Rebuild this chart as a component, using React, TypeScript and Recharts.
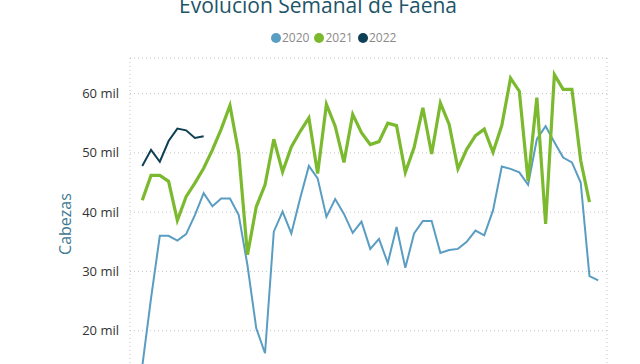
import {
  CartesianGrid,
  Legend,
  Line,
  LineChart,
  XAxis,
  YAxis,
} from "recharts";

const C2020 = "#5A9DC2";
const C2021 = "#7BB92E";
const C2022 = "#0F3F55";
const FONT = "'Open Sans', sans-serif";

const weeks = [
  1, 2, 3, 4, 5, 6, 7, 8, 9, 10, 11, 12, 13, 14, 15, 16, 17, 18, 19, 20, 21,
  22, 23, 24, 25, 26, 27, 28, 29, 30, 31, 32, 33, 34, 35, 36, 37, 38, 39, 40,
  41, 42, 43, 44, 45, 46, 47, 48, 49, 50, 51, 52, 53,
];

const faena2020 = [
  14000, 25500, 36000, 36000, 35200, 36300, 39500, 43200, 41000, 42300, 42300,
  39500, 31000, 20400, 16200, 36700, 40100, 36400, 42300, 47800, 45700, 39200,
  42200, 39700, 36500, 38400, 33800, 35500, 31400, 37500, 30600, 36400, 38500,
  38500, 33100, 33600, 33800, 35000, 36900, 36100, 40300, 47700, 47300, 46700,
  44600, 52300, 54500, 51800, 49200, 48400, 45000, 29200, 28500,
];

const faena2021 = [
  42000, 46200, 46200, 45200, 38600, 42600, 44900, 47400, 50500, 54000, 58000,
  50000, 32800, 40900, 44600, 52300, 46800, 51000, 53600, 55900, 46500, 58200,
  54500, 48400, 56500, 53400, 51400, 51900, 55000, 54600, 46700, 50900, 57600,
  49800, 58400, 54800, 47300, 50600, 52900, 54000, 50100, 54600, 62600, 60400,
  45300, 59300, 38000, 63200, 60700, 60700, 48700, 41700,
];

const faena2022 = [47800, 50500, 48500, 52000, 54100, 53800, 52500, 52800];

// la parte baja del eje (10 mil y las semanas) queda fuera del recorte
const yTicks = [20000, 30000, 40000, 50000, 60000];
const xTicks = [10, 20, 30, 40, 50];

const series = [
  { key: "2020", color: C2020 },
  { key: "2021", color: C2021 },
  { key: "2022", color: C2022 },
];

const data = weeks.map((week, i) => ({
  week,
  "2020": faena2020[i],
  "2021": faena2021[i],
  "2022": faena2022[i],
}));

function LegendContent() {
  return (
    <div
      style={{
        display: "flex",
        paddingLeft: 271,
        fontFamily: FONT,
        fontSize: 12,
        color: "#8a8a8a",
        lineHeight: "16px",
      }}
    >
      {series.map((s) => (
        <div
          key={s.key}
          style={{ display: "flex", alignItems: "center", marginRight: 5 }}
        >
          <svg width={10} height={10} style={{ marginRight: 1 }}>
            <circle cx={5} cy={5} r={5} fill={s.color} />
          </svg>
          <span>{s.key}</span>
        </div>
      ))}
    </div>
  );
}

export default function App() {
  return (
    <div
      style={{
        position: "absolute",
        top: 0,
        left: 0,
        width: 640,
        height: 364,
        overflow: "hidden",
        background: "#fff",
      }}
    >
      <div
        style={{
          position: "absolute",
          top: -5,
          left: 0,
          width: 636,
          textAlign: "center",
          fontFamily: FONT,
          fontSize: 21,
          lineHeight: "21px",
          color: "#1E5468",
          zIndex: 2,
        }}
      >
        Evolución Semanal de Faena
      </div>
      <LineChart
        width={640}
        height={430}
        data={data}
        margin={{ top: 58, right: 33, left: 0, bottom: 10 }}
      >
        <CartesianGrid stroke="#c4c4c4" strokeDasharray="1 3" />
        <XAxis
          dataKey="week"
          type="number"
          domain={[-0.4, 54]}
          ticks={xTicks}
          height={30}
          axisLine={false}
          tickLine={false}
          tick={false}
        />
        <YAxis
          width={130}
          domain={[10000, 66000]}
          ticks={yTicks}
          axisLine={false}
          tickLine={false}
          tickMargin={5}
          tickFormatter={(v: number) => `${v / 1000} mil`}
          tick={{ fontSize: 13, fill: "#333", fontFamily: FONT }}
          label={{
            value: "Cabezas",
            angle: -90,
            position: "insideLeft",
            dx: 60,
            dy: 0,
            style: {
              fontSize: 16,
              fill: "#3E7A90",
              fontFamily: FONT,
              textAnchor: "middle",
            },
          }}
        />
        <Legend
          verticalAlign="middle"
          align="center"
          wrapperStyle={{ top: 30, left: 0, width: 640 }}
          content={() => <LegendContent />}
        />
        <Line
          dataKey="2020"
          stroke={C2020}
          strokeWidth={2}
          dot={false}
          isAnimationActive={false}
        />
        <Line
          dataKey="2021"
          stroke={C2021}
          strokeWidth={3.2}
          dot={false}
          isAnimationActive={false}
        />
        <Line
          dataKey="2022"
          stroke={C2022}
          strokeWidth={2}
          dot={false}
          isAnimationActive={false}
        />
      </LineChart>
    </div>
  );
}
